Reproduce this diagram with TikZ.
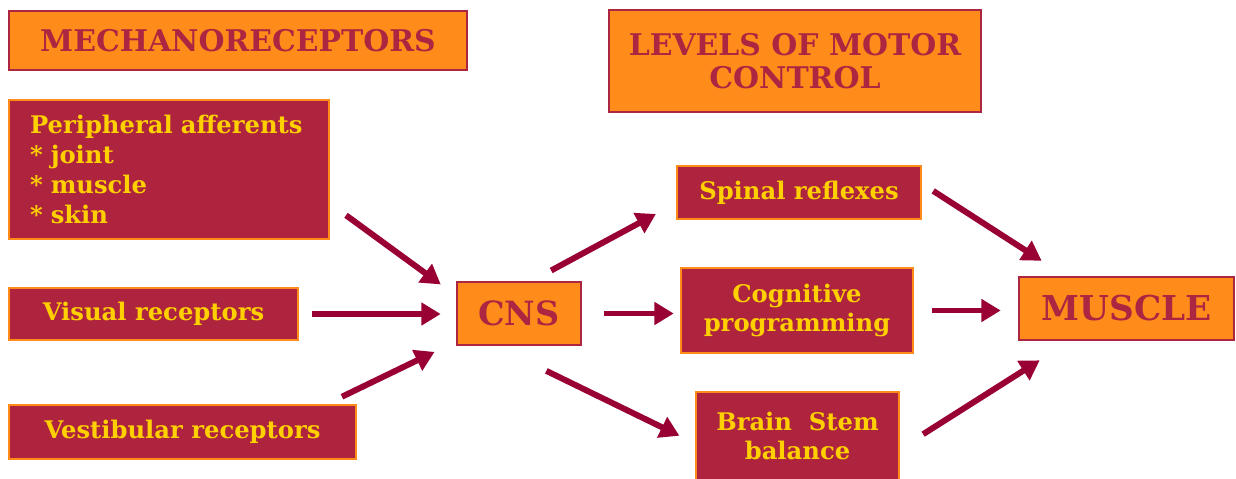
\documentclass[tikz,border=0pt]{standalone}
\usepackage{fontspec}
\setmainfont{DejaVu Serif}
\usepackage{xcolor}
\usetikzlibrary{arrows.meta,calc}
\definecolor{boxorange}{HTML}{FF8C1A}
\definecolor{boxred}{HTML}{AE243E}
\definecolor{titlered}{HTML}{AC2641}
\definecolor{textyellow}{HTML}{FFD000}
\definecolor{arrowred}{HTML}{990033}
\newcommand{\fs}[2]{\fontsize{#1}{#2}\selectfont\bfseries}

\begin{document}
\begin{tikzpicture}[
  x=0.02cm, y=-0.02cm,
  orangebox/.style={draw=titlered, fill=boxorange, line width=1.5pt, text=titlered, align=center, inner sep=0pt},
  redbox/.style={draw=boxorange, fill=boxred, line width=1.5pt, text=textyellow, align=center, inner sep=0pt},
  arrow/.style={-{Triangle[length=11pt,width=12.5pt]}, line width=3.4pt, draw=arrowred}
]
\useasboundingbox (0,0) rectangle (1236,478);
% left column
\node[orangebox, minimum width=9.16cm, minimum height=1.18cm, font=\fs{17}{20}] (mech) at (238,40.5) {MECHANORECEPTORS};
\node[redbox, minimum width=6.4cm, minimum height=2.78cm, text width=5.56cm, align=left, font=\fs{13.8}{17}] (peri) at (169,169.5)
  {Peripheral afferents\\[0pt]* joint\\[0pt]* muscle\\[0pt]* skin};
\node[redbox, minimum width=5.78cm, minimum height=1.04cm, font=\fs{13.8}{17}] (visual) at (153.5,314) {Visual receptors};
\node[redbox, minimum width=6.94cm, minimum height=1.08cm, font=\fs{13.8}{17}] (vest) at (182.5,432) {Vestibular receptors};
% centre
\node[orangebox, minimum width=2.48cm, minimum height=1.26cm, font=\fs{19}{22}] (cns) at (519,313.5) {CNS};
% levels
\node[orangebox, minimum width=7.44cm, minimum height=2.04cm, font=\fs{17}{19}] (levels) at (795,61) {LEVELS OF MOTOR\\CONTROL};
\node[redbox, minimum width=4.88cm, minimum height=1.06cm, font=\fs{13.8}{17}] (spinal) at (799,192.5) {Spinal reflexes};
\node[redbox, minimum width=4.64cm, minimum height=1.7cm, font=\fs{13.8}{16}] (cog) at (797,310.5) {Cognitive\\programming};
\node[redbox, minimum width=4.06cm, minimum height=1.76cm, font=\fs{13.8}{16.5}] (brain) at (797.5,436) {Brain\ \ Stem\\balance};
\node[orangebox, minimum width=4.3cm, minimum height=1.26cm, font=\fs{19.5}{22}] (muscle) at (1126.5,308.5) {MUSCLE};
% arrows into CNS
\draw[arrow, shorten <=0.39cm, shorten >=0.37cm] (peri.-12) -- (cns.164);
\draw[arrow, shorten <=0.26cm, shorten >=0.3cm] (visual.east) -- (visual.east -| cns.west);
\draw[arrow, shorten <=0.32cm, shorten >=0.47cm] ($(vest.north west)!0.915!(vest.north east)$) -- (cns.204.5);
% arrows out of CNS
\draw[arrow, shorten <=0.43cm, shorten >=0.45cm] (cns.68.8) -- (spinal.185.5);
\draw[arrow, shorten <=0.44cm, shorten >=0.12cm] (cns.east) -- (cns.east -| cog.west);
\draw[arrow, shorten <=1.12cm, shorten >=0.34cm] (cns.235.1) -- (brain.184.8);
% arrows into MUSCLE
\draw[arrow, shorten <=0.26cm, shorten >=0.55cm] (spinal.4.5) -- (muscle.152.9);
\draw[arrow, shorten <=0.36cm, shorten >=0.34cm] (cog.east) -- (cog.east -| muscle.west);
\draw[arrow, shorten <=0.54cm, shorten >=0.71cm] (brain.-7.6) -- (muscle.210);
\end{tikzpicture}
\end{document}
